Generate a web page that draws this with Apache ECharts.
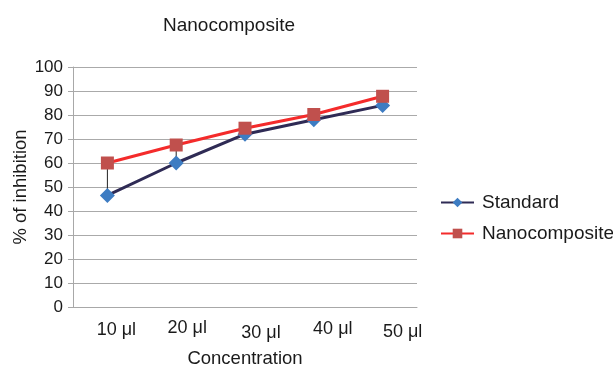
<!DOCTYPE html>
<html>
<head>
<meta charset="utf-8">
<script src="https://cdn.jsdelivr.net/npm/echarts@6/dist/echarts.min.js"></script>
<style>
  html, body { margin: 0; padding: 0; background: #fff; }
  #chart { width: 613px; height: 367px; }
</style>
</head>
<body>
<div id="chart"></div>
<script>
    // data
    var categories = ['10 μl', '20 μl', '30 μl', '40 μl', '50 μl'];
    var standard = [46.5, 60, 72, 78, 84];
    var nanocomposite = [60, 67.5, 74.5, 80.2, 87.8];
    var yTicks = { min: 0, max: 100, interval: 10 };

    var font = 'Liberation Sans, Arial, sans-serif';

    // slight shifts of each x label, as in the original picture
    var labelRich = {
        l0: { fontSize: 18, color: '#1a1a1a', padding: [3, 0, 0, 18] },
        l1: { fontSize: 18, color: '#1a1a1a', padding: [1, 0, 0, 22] },
        l2: { fontSize: 18, color: '#1a1a1a', padding: [6, 0, 0, 32] },
        l3: { fontSize: 18, color: '#1a1a1a', padding: [2, 0, 0, 38] },
        l4: { fontSize: 18, color: '#1a1a1a', padding: [5, 0, 0, 40] }
    };

    var chart = echarts.init(document.getElementById('chart'));

    var option = {
        animation: false,
        textStyle: { fontFamily: font },
        title: {
            text: 'Nanocomposite',
            left: 224,
            textAlign: 'center',
            top: 11,
            textStyle: { fontSize: 19, fontWeight: 'normal', color: '#1a1a1a', fontFamily: font }
        },
        legend: {
            orient: 'vertical',
            left: 440,
            top: 193,
            padding: 0,
            itemWidth: 33,
            itemHeight: 12,
            itemGap: 12,
            data: ['Standard', 'Nanocomposite'],
            textStyle: { fontSize: 19, color: '#1a1a1a', fontFamily: font, padding: [0, 0, 0, 3] }
        },
        grid: { left: 73, right: 196, top: 67, bottom: 60, outerBoundsMode: 'none', containLabel: false },
        xAxis: {
            type: 'category',
            data: categories,
            boundaryGap: true,
            name: 'Concentration',
            nameLocation: 'middle',
            nameGap: 42,
            nameTextStyle: { fontSize: 18.5, color: '#1a1a1a' },
            axisLine: { lineStyle: { color: '#a8a8a8', width: 1 } },
            axisTick: { show: false },
            axisLabel: {
                margin: 11,
                formatter: function (v, i) { return '{l' + i + '|' + v + '}'; },
                rich: labelRich
            }
        },
        yAxis: {
            type: 'value',
            min: yTicks.min,
            max: yTicks.max,
            interval: yTicks.interval,
            name: '% of inhibition',
            nameLocation: 'middle',
            nameGap: 43,
            nameMoveOverlap: false,
            nameTextStyle: { fontSize: 18.5, color: '#1a1a1a' },
            axisLine: { show: true, lineStyle: { color: '#a8a8a8', width: 1 } },
            axisTick: { show: true, length: 5, lineStyle: { color: '#a8a8a8' } },
            axisLabel: { fontSize: 17, color: '#1a1a1a', margin: 10 },
            splitLine: { lineStyle: { color: '#aaaaaa', width: 1 } }
        },
        series: [
            {
                // thin connectors between the two series at each concentration
                type: 'custom',
                name: 'gap',
                z: 1,
                silent: true,
                data: categories.map(function (c, i) { return [i, standard[i], nanocomposite[i]]; }),
                renderItem: function (params, api) {
                    var lo = api.coord([api.value(0), api.value(1)]);
                    var hi = api.coord([api.value(0), api.value(2)]);
                    return {
                        type: 'line',
                        shape: { x1: lo[0], y1: lo[1], x2: hi[0], y2: hi[1] },
                        style: { stroke: '#222', lineWidth: 1 }
                    };
                }
            },
            {
                name: 'Standard',
                type: 'line',
                data: standard,
                z: 3,
                symbol: 'diamond',
                symbolSize: 15,
                lineStyle: { color: '#2f2b55', width: 3 },
                itemStyle: { color: '#3d7cc2' }
            },
            {
                name: 'Nanocomposite',
                type: 'line',
                data: nanocomposite,
                z: 4,
                symbol: 'rect',
                symbolSize: 13,
                lineStyle: { color: '#f42b2b', width: 3 },
                itemStyle: { color: '#c0504d' }
            }
        ]
    };

    chart.setOption(option);
</script>
</body>
</html>
